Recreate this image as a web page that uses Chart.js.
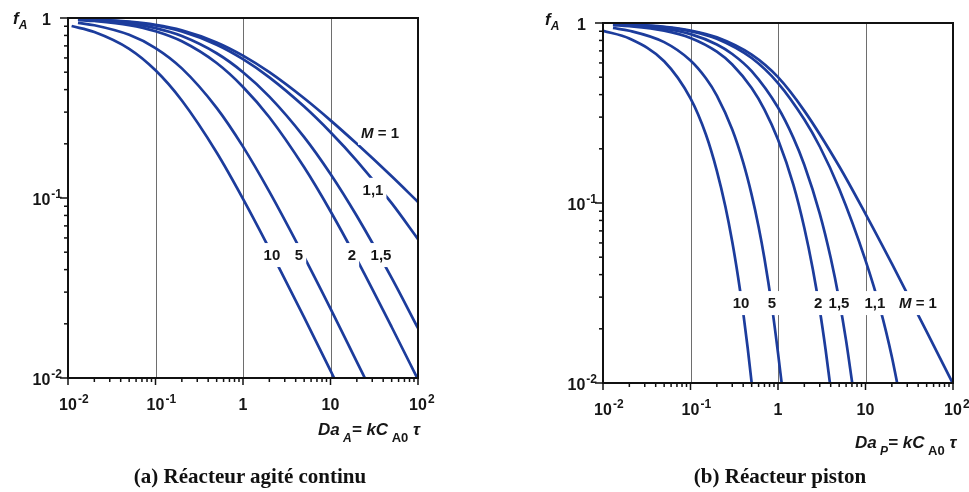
<!DOCTYPE html>
<html>
<head>
<meta charset="utf-8">
<script src="https://cdn.jsdelivr.net/npm/chart.js@4.4.1/dist/chart.umd.min.js"></script>
<style>
  body { margin: 0; background: #fff; width: 969px; height: 492px; position: relative; overflow: hidden; }
  canvas { position: absolute; top: 0; }
  #cstr { left: 0; }
  #pfr { left: 480px; }
  .caption { position: absolute; top: 464px; font: bold 21px 'Liberation Serif', 'Times New Roman', serif; color: #111; text-align: center; white-space: nowrap; }
</style>
</head>
<body>
<canvas id="cstr" width="480" height="492"></canvas>
<canvas id="pfr" width="489" height="492"></canvas>
<div class="caption" style="left:100px;width:300px">(a) Réacteur agité continu</div>
<div class="caption" style="left:630px;width:300px">(b) Réacteur piston</div>
<script>
// axis ticks (log decades)
const xTicks = [0.01, 0.1, 1, 10, 100];
const xTickLabels = [['10', '-2'], ['10', '-1'], ['1', ''], ['10', ''], ['10', '2']];
const yTicks = [1, 0.1, 0.01];
const yTickLabels = [['1', ''], ['10', '-1'], ['10', '-2']];
const gridLines = [0.1, 1, 10];
const minorSteps = [2, 3, 4, 5, 6, 7, 8, 9];

// (a) continuous stirred reactor: [Da, fA]
const cstrM10 = [[0.011, 0.902], [0.02, 0.836], [0.05, 0.674], [0.1, 0.512], [0.2, 0.348], [0.5, 0.179], [1, 0.099], [2, 0.0523], [5, 0.0217], [10, 0.011], [11, 0.01]];
const cstrM5 = [[0.013, 0.94], [0.02, 0.911], [0.05, 0.806], [0.1, 0.681], [0.2, 0.525], [0.5, 0.317], [1, 0.193], [2, 0.1085], [5, 0.0471], [10, 0.0243], [20, 0.0123], [24.7, 0.01]];
const cstrM2 = [[0.013, 0.975], [0.02, 0.962], [0.05, 0.913], [0.1, 0.844], [0.2, 0.742], [0.5, 0.562], [1, 0.414], [2, 0.281], [5, 0.148], [10, 0.0844], [20, 0.0456], [50, 0.0192], [100, 0.0098]];
const cstrM15 = [[0.013, 0.981], [0.02, 0.971], [0.05, 0.933], [0.1, 0.879], [0.2, 0.794], [0.5, 0.637], [1, 0.5], [2, 0.366], [5, 0.218], [10, 0.136], [20, 0.0794], [50, 0.036], [100, 0.0189]];
const cstrM11 = [[0.013, 0.987], [0.02, 0.979], [0.05, 0.95], [0.1, 0.908], [0.2, 0.842], [0.5, 0.711], [1, 0.591], [2, 0.468], [5, 0.322], [10, 0.232], [20, 0.161], [50, 0.0936], [100, 0.0591]];
const cstrM1 = [[0.013, 0.987], [0.02, 0.981], [0.05, 0.954], [0.1, 0.916], [0.2, 0.854], [0.5, 0.732], [1, 0.618], [2, 0.5], [5, 0.358], [10, 0.27], [20, 0.2], [50, 0.132], [100, 0.0951]];

// (b) plug flow reactor
const pfrM10 = [[0.01, 0.905], [0.02, 0.82], [0.05, 0.613], [0.1, 0.381], [0.15, 0.24], [0.2, 0.151], [0.25, 0.0959], [0.3, 0.0609], [0.35, 0.0387], [0.4, 0.0247], [0.45, 0.0157], [0.5, 0.01]];
const pfrM5 = [[0.013, 0.938], [0.02, 0.906], [0.05, 0.783], [0.1, 0.619], [0.15, 0.493], [0.2, 0.395], [0.3, 0.256], [0.4, 0.168], [0.5, 0.111], [0.6, 0.0739], [0.7, 0.0492], [0.85, 0.0269], [1, 0.0147], [1.1, 0.01]];
const pfrM2 = [[0.013, 0.974], [0.02, 0.961], [0.05, 0.907], [0.1, 0.826], [0.2, 0.693], [0.3, 0.588], [0.5, 0.435], [0.7, 0.33], [1, 0.225], [1.5, 0.126], [2, 0.0726], [2.5, 0.0428], [3, 0.0255], [3.5, 0.0153], [3.92, 0.01]];
const pfrM15 = [[0.013, 0.981], [0.02, 0.971], [0.05, 0.929], [0.1, 0.867], [0.2, 0.76], [0.3, 0.673], [0.5, 0.54], [1, 0.339], [1.5, 0.23], [2, 0.1625], [3, 0.0874], [4, 0.0496], [5, 0.029], [6, 0.0172], [7.05, 0.01]];
const pfrM11 = [[0.013, 0.987], [0.02, 0.978], [0.05, 0.948], [0.1, 0.9], [0.2, 0.818], [0.5, 0.639], [1, 0.464], [2, 0.291], [3, 0.206], [5, 0.12], [10, 0.048], [15, 0.025], [20, 0.014], [23, 0.01]];
const pfrM1 = [[0.013, 0.987], [0.02, 0.98], [0.05, 0.952], [0.1, 0.909], [0.2, 0.833], [0.5, 0.667], [1, 0.5], [2, 0.325], [5, 0.16], [10, 0.087], [20, 0.046], [50, 0.0193], [100, 0.0099]];

// curve labels, placed in data coordinates
const cstrLabels = [
  { text: 'M = 1', x: 36.8, y: 0.23 },
  { text: '1,1', x: 30.6, y: 0.111 },
  { text: '10', x: 2.14, y: 0.0482 },
  { text: '5', x: 4.37, y: 0.0482 },
  { text: '2', x: 17.6, y: 0.0482 },
  { text: '1,5', x: 37.8, y: 0.0482 }
];
const pfrLabels = [
  { text: '10', x: 0.378, y: 0.0278 },
  { text: '5', x: 0.853, y: 0.0278 },
  { text: '2', x: 2.87, y: 0.0278 },
  { text: '1,5', x: 4.98, y: 0.0278 },
  { text: '1,1', x: 12.8, y: 0.0278 },
  { text: 'M = 1', x: 39.8, y: 0.0278 }
];

const LINE = '#1c3c9c';
const TXT = '#161616';
const SANS = "'Liberation Sans', Arial, sans-serif";

function toPts(arr) {
  return arr.map(p => ({ x: p[0], y: p[1] }));
}

function seg(ctx, x1, y1, x2, y2) {
  ctx.beginPath();
  ctx.moveTo(x1, y1);
  ctx.lineTo(x2, y2);
  ctx.stroke();
}

// "10" with a raised exponent; returns total width
function powWidth(ctx, base, exp) {
  ctx.font = 'bold 16px ' + SANS;
  let w = ctx.measureText(base).width;
  if (exp) {
    ctx.font = 'bold 12px ' + SANS;
    w += ctx.measureText(exp).width + 1;
  }
  return w;
}
function drawPow(ctx, base, exp, x, y) {
  ctx.textAlign = 'left';
  ctx.font = 'bold 16px ' + SANS;
  ctx.fillText(base, x, y);
  if (exp) {
    const bw = ctx.measureText(base).width;
    ctx.font = 'bold 12px ' + SANS;
    ctx.fillText(exp, x + bw + 1, y - 7);
  }
}

// sequence of [text, font, dy]
function drawRun(ctx, parts, x, y) {
  ctx.textAlign = 'left';
  parts.forEach(p => {
    ctx.font = p[1];
    ctx.fillText(p[0], x, y + (p[2] || 0));
    x += ctx.measureText(p[0]).width;
  });
}

const decor = {
  id: 'decor',
  beforeDatasetsDraw(chart, args, o) {
    const { ctx, chartArea: a, scales: { x } } = chart;
    ctx.save();
    ctx.strokeStyle = '#6e6e6e';
    ctx.lineWidth = 1;
    gridLines.forEach(v => {
      const px = Math.round(x.getPixelForValue(v)) + 0.5;
      seg(ctx, px, a.top, px, a.bottom);
    });
    ctx.restore();
  },
  afterDatasetsDraw(chart, args, o) {
    const { ctx, chartArea: a, scales: { x, y } } = chart;
    ctx.save();
    ctx.fillStyle = TXT;
    ctx.textBaseline = 'alphabetic';

    // curve labels with a white gap behind them
    o.labels.forEach(l => {
      const px = x.getPixelForValue(l.x), py = y.getPixelForValue(l.y);
      const italic = l.text.startsWith('M');
      ctx.font = 'bold 15px ' + SANS;
      let w = ctx.measureText(l.text).width;
      ctx.fillStyle = '#fff';
      ctx.fillRect(px - w / 2 - 3, py - 12, w + 6, 24);
      ctx.fillStyle = TXT;
      if (italic) {
        drawRun(ctx, [['M', 'italic bold 15px ' + SANS], [l.text.slice(1), 'bold 15px ' + SANS]], px - w / 2, py + 5);
      } else {
        ctx.textAlign = 'center';
        ctx.fillText(l.text, px, py + 5);
      }
    });

    // frame
    ctx.strokeStyle = '#111';
    ctx.lineWidth = 2;
    ctx.strokeRect(a.left, a.top, a.right - a.left, a.bottom - a.top);

    // ticks
    ctx.lineWidth = 1.5;
    const decades = [0.01, 0.1, 1, 10];
    xTicks.forEach(v => {
      const px = x.getPixelForValue(v);
      seg(ctx, px, a.bottom, px, a.bottom + 7);
    });
    decades.forEach(d => minorSteps.forEach(k => {
      const px = x.getPixelForValue(k * d);
      seg(ctx, px, a.bottom, px, a.bottom + 4);
    }));
    yTicks.forEach(v => {
      const py = y.getPixelForValue(v);
      seg(ctx, a.left - 8, py, a.left, py);
    });
    [0.01, 0.1].forEach(d => minorSteps.forEach(k => {
      const py = y.getPixelForValue(k * d);
      seg(ctx, a.left - 4, py, a.left, py);
    }));

    // tick labels
    xTicks.forEach((v, i) => {
      const px = x.getPixelForValue(v);
      const [b, e] = xTickLabels[i];
      ctx.font = 'bold 16px ' + SANS;
      const bw = ctx.measureText(b).width;
      drawPow(ctx, b, e, px - bw / 2, a.bottom + 32);
    });
    yTicks.forEach((v, i) => {
      const py = y.getPixelForValue(v);
      const [b, e] = yTickLabels[i];
      const w = powWidth(ctx, b, e);
      const right = e ? a.left - 6 : a.left - 17;
      drawPow(ctx, b, e, right - w, py + 7);
    });

    // axis titles
    const it = 'italic bold 17px ' + SANS, sub = 'italic bold 12px ' + SANS;
    drawRun(ctx, [['f', it], ['A', sub, 5]], a.left + o.fx, a.top + o.fy);
    drawRun(ctx, [['Da', it], [' ' + o.sub, sub, 7], ['= kC', it], [' A0', 'bold 13px ' + SANS, 7], [' τ', it]],
      a.right + o.tx, a.bottom + o.ty);
    ctx.restore();
  }
};

function makeChart(id, series, labels, pad, titleOpts) {
  const names = ['10', '5', '2', '1,5', '1,1', '1'];
  return new Chart(document.getElementById(id), {
    type: 'line',
    data: {
      datasets: series.map((s, i) => ({
        label: 'M = ' + names[i],
        data: toPts(s),
        borderColor: LINE,
        borderWidth: 2.7,
        pointRadius: 0,
        fill: false,
        cubicInterpolationMode: 'monotone'
      }))
    },
    options: {
      responsive: false,
      animation: false,
      devicePixelRatio: 1,
      layout: { padding: pad },
      scales: {
        x: { type: 'logarithmic', min: 0.01, max: 100, display: false },
        y: { type: 'logarithmic', min: 0.01, max: 1, display: false }
      },
      plugins: {
        legend: { display: false },
        tooltip: { enabled: false },
        decor: Object.assign({ labels: labels }, titleOpts)
      }
    },
    plugins: [decor]
  });
}

makeChart('cstr', [cstrM10, cstrM5, cstrM2, cstrM15, cstrM11, cstrM1], cstrLabels,
  { left: 68, top: 18, right: 62, bottom: 114 },
  { sub: 'A', fx: -55, fy: 6, tx: -100, ty: 57 });
makeChart('pfr', [pfrM10, pfrM5, pfrM2, pfrM15, pfrM11, pfrM1], pfrLabels,
  { left: 123, top: 23, right: 16, bottom: 109 },
  { sub: 'P', fx: -58, fy: 2, tx: -98, ty: 65 });
</script>
</body>
</html>
